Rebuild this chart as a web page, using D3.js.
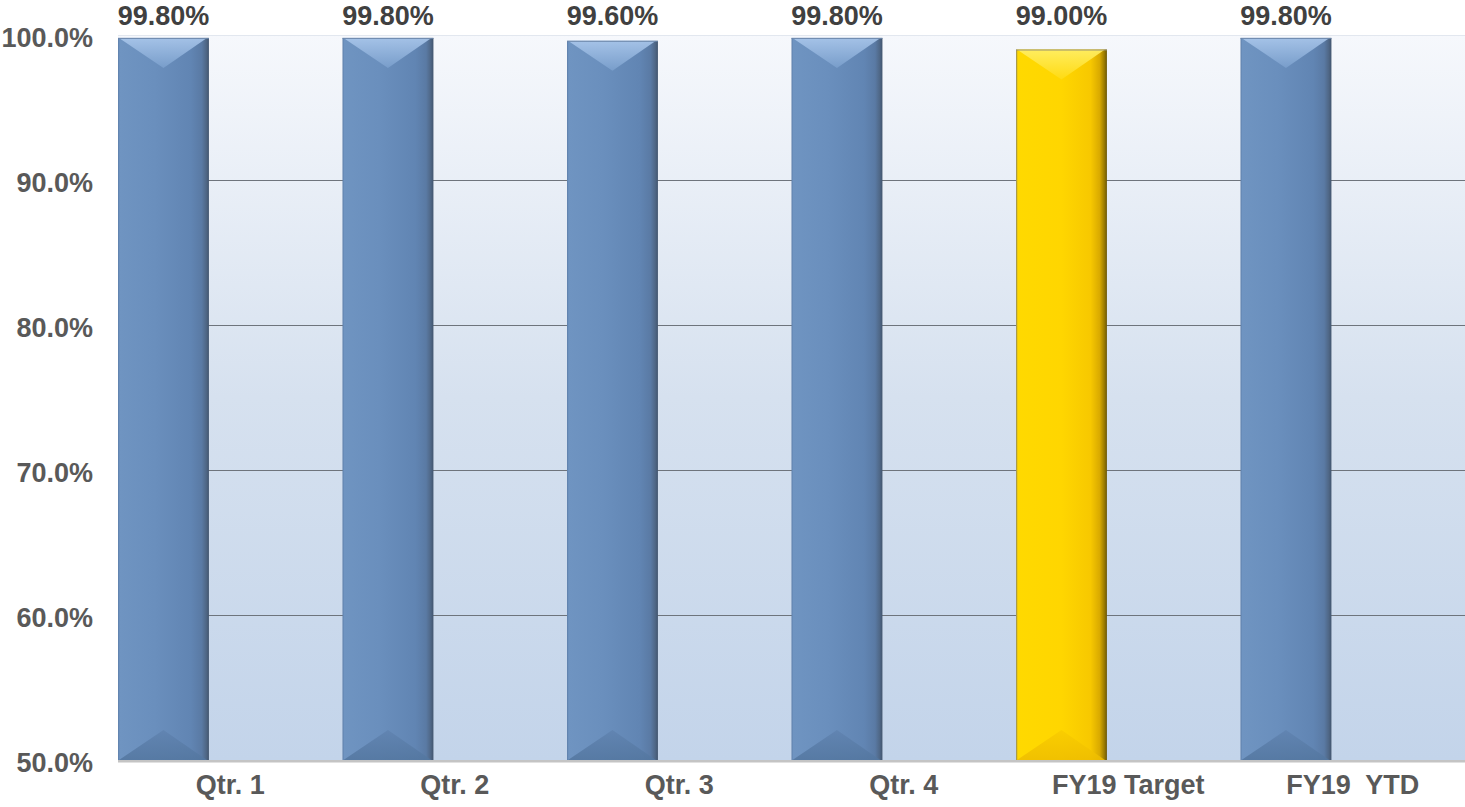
<!DOCTYPE html>
<html>
<head>
<meta charset="utf-8">
<script src="https://cdn.jsdelivr.net/npm/d3@7"></script>
<style>
  html, body { margin: 0; padding: 0; background: #ffffff; }
  svg { display: block; }
</style>
</head>
<body>
<svg id="chart" width="1465" height="807"></svg>
<script>
// Availability by period
const categories = ["Qtr. 1", "Qtr. 2", "Qtr. 3", "Qtr. 4", "FY19 Target", "FY19  YTD"];
const values = [99.8, 99.8, 99.6, 99.8, 99.0, 99.8];
const valueLabels = ["99.80%", "99.80%", "99.60%", "99.80%", "99.00%", "99.80%"];
const isTarget = [false, false, false, false, true, false];
const yTicks = [50, 60, 70, 80, 90, 100];
const yTickLabels = ["50.0%", "60.0%", "70.0%", "80.0%", "90.0%", "100.0%"];

const W = 1465, H = 807;
const plot = { left: 118, right: 1465, top: 35, bottom: 760 };
const FONT = "'Liberation Sans', Arial, sans-serif";
const FS = 27;

const svg = d3.select("#chart");
const defs = svg.append("defs");

// Plot-area background: pale at the top, light blue at the base
const bg = defs.append("linearGradient").attr("id", "plotBg")
  .attr("x1", 0).attr("y1", 0).attr("x2", 0).attr("y2", 1);
bg.append("stop").attr("offset", "0%").attr("stop-color", "#f6f8fc");
bg.append("stop").attr("offset", "50%").attr("stop-color", "#d6e1ef");
bg.append("stop").attr("offset", "100%").attr("stop-color", "#c3d4ea");

// Bevelled bar shading, blue and gold
function hGrad(id, stops) {
  const g = defs.append("linearGradient").attr("id", id)
    .attr("x1", 0).attr("y1", 0).attr("x2", 1).attr("y2", 0);
  stops.forEach(([o, c]) => g.append("stop").attr("offset", o).attr("stop-color", c));
}
function vGrad(id, stops) {
  const g = defs.append("linearGradient").attr("id", id)
    .attr("x1", 0).attr("y1", 0).attr("x2", 0).attr("y2", 1);
  stops.forEach(([o, c, op]) => g.append("stop").attr("offset", o).attr("stop-color", c)
    .attr("stop-opacity", op === undefined ? 1 : op));
}
hGrad("blueBody", [["0%", "#5d7ea9"], ["2%", "#6f94c1"], ["40%", "#6a8fbd"], ["80%", "#6185b3"],
  ["92%", "#5a7aa4"], ["97%", "#4f6786"], ["100%", "#42556e"]]);
vGrad("blueTop", [["0%", "#abc8ec"], ["100%", "#7a9fcc"]]);
vGrad("blueBot", [["0%", "#6083b0"], ["100%", "#53769f"]]);
hGrad("goldBody", [["0%", "#8c8462"], ["2%", "#ffd900"], ["50%", "#ffd600"], ["82%", "#f7c800"],
  ["92%", "#d9aa00"], ["97%", "#9c7c00"], ["100%", "#6c5808"]]);
vGrad("goldTop", [["0%", "#fff06a"], ["100%", "#ffdb14"]]);
vGrad("goldBot", [["0%", "#f9cc00"], ["100%", "#eebd00"]]);

const x = d3.scaleBand().domain(categories).range([plot.left, plot.right]).paddingInner(0).paddingOuter(0);
const y = d3.scaleLinear().domain([50, 100]).range([plot.bottom, plot.top]);
const barW = x.bandwidth() * 0.405;

// Background
svg.append("rect")
  .attr("x", plot.left).attr("y", plot.top)
  .attr("width", plot.right - plot.left).attr("height", plot.bottom - plot.top)
  .attr("fill", "url(#plotBg)");
svg.append("line")
  .attr("x1", plot.left).attr("x2", plot.right)
  .attr("y1", plot.top + 0.5).attr("y2", plot.top + 0.5)
  .attr("stroke", "#e2e7ef").attr("stroke-width", 1);

// Gridlines
svg.append("g").selectAll("line")
  .data(yTicks.filter(t => t > 50 && t < 100))
  .join("line")
  .attr("x1", plot.left).attr("x2", plot.right)
  .attr("y1", d => Math.round(y(d)) + 0.5).attr("y2", d => Math.round(y(d)) + 0.5)
  .attr("stroke", "#6e747c").attr("stroke-width", 1);

// Y axis labels
const yAxis = d3.axisLeft(y).tickValues(yTicks)
  .tickFormat((d, i) => yTickLabels[i]).tickSize(0).tickPadding(0);
const yg = svg.append("g").attr("transform", `translate(93,2)`).call(yAxis);
yg.select(".domain").remove();
yg.selectAll("text")
  .attr("font-family", FONT)
  .attr("font-size", FS).attr("font-weight", "bold").attr("fill", "#595959")
  .attr("dy", "0.35em");

// Bars
const bars = svg.append("g").selectAll("g.bar")
  .data(categories.map((c, i) => ({ c, v: values[i], t: isTarget[i], label: valueLabels[i] })))
  .join("g").attr("class", "bar");

bars.each(function (d) {
  const g = d3.select(this);
  const x0 = x(d.c), x1 = x0 + barW, xc = (x0 + x1) / 2;
  const top = y(d.v), bot = y(50);
  const bev = 30;
  const pre = d.t ? "gold" : "blue";
  g.append("rect").attr("x", x0).attr("y", top).attr("width", barW).attr("height", bot - top)
    .attr("fill", `url(#${pre}Body)`);
  g.append("path")
    .attr("d", `M${x0 + 1},${top} L${x1 - 2},${top} L${xc},${top + bev} Z`)
    .attr("fill", `url(#${pre}Top)`).attr("opacity", 0.9);
  g.append("path")
    .attr("d", `M${x0 + 1},${bot} L${x1 - 2},${bot} L${xc},${bot - bev} Z`)
    .attr("fill", `url(#${pre}Bot)`).attr("opacity", 0.85);
  g.append("line")
    .attr("x1", x0).attr("x2", x1).attr("y1", top + 0.5).attr("y2", top + 0.5)
    .attr("stroke", d.t ? "#9a9270" : "#6d87aa").attr("stroke-width", 1);
});

// Value labels above bars (kept inside the top edge)
bars.append("text")
  .attr("x", d => x(d.c) + barW / 2)
  .attr("y", d => Math.min(y(d.v) - 20, 16))
  .attr("dy", "0.35em")
  .attr("text-anchor", "middle")
  .attr("font-family", FONT)
  .attr("font-size", FS).attr("font-weight", "bold").attr("fill", "#404040")
  .text(d => d.label);

// Category axis
svg.append("rect")
  .attr("x", plot.left).attr("y", plot.bottom)
  .attr("width", plot.right - plot.left).attr("height", 2.5)
  .attr("fill", "#c4c4c4");

const xAxis = d3.axisBottom(x).tickSize(0).tickPadding(0);
const xg = svg.append("g").attr("transform", `translate(0,${plot.bottom})`).call(xAxis);
xg.select(".domain").remove();
xg.selectAll("text")
  .attr("y", 25)
  .attr("dy", "0.35em")
  .attr("font-family", FONT)
  .attr("font-size", FS).attr("font-weight", "bold").attr("fill", "#595959")
  .style("white-space", "pre")
  .attr("xml:space", "preserve");
</script>
</body>
</html>
